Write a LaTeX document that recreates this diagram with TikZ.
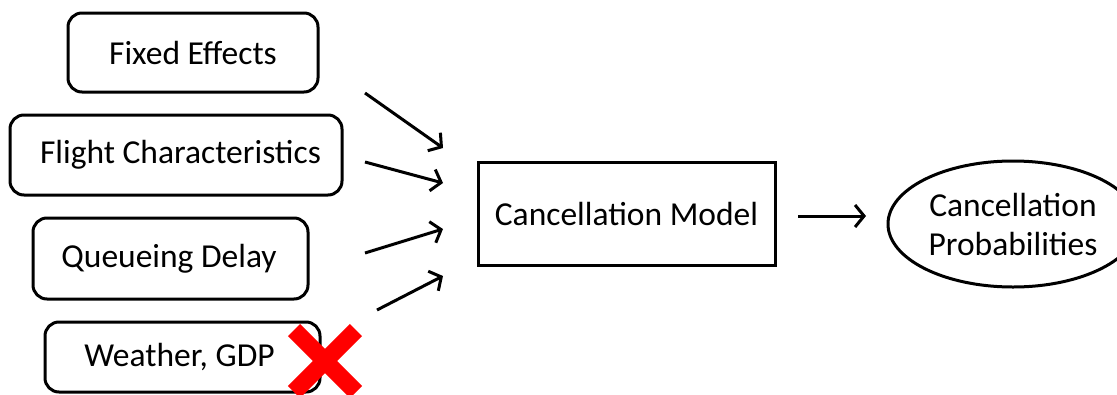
\documentclass[tikz,border=0pt]{standalone}
\usepackage{fontspec}
\setmainfont{Carlito}
\usetikzlibrary{arrows.meta,shapes.geometric,calc}
\begin{document}
\begin{tikzpicture}[x=1pt,y=-1pt,
  inbox/.style={draw=black,line width=3pt,rounded corners=14pt,inner sep=0pt,font=\fontsize{33.5}{38}\selectfont},
  modelbox/.style={draw=black,line width=3pt,inner sep=0pt,font=\fontsize{33.5}{38}\selectfont},
  outell/.style={draw=black,line width=3pt,ellipse,inner sep=0pt,minimum width=250pt,minimum height=126pt,font=\fontsize{33.5}{38}\selectfont,align=center},
  conn/.style={line width=3pt,-{Straight Barb[length=9pt,width=22pt,line width=3pt]}},
  redx/.style={draw=red,line width=17pt,line cap=butt}]
\useasboundingbox (0,0) rectangle (1117,394);
\fill[white] (0,0) rectangle (1117,394);
\clip (0,0) rectangle (1117,394);

\node[inbox,minimum width=250pt,minimum height=79pt] (fe) at (193,52.5) {Fixed Effects};
\node[inbox,minimum width=332pt,minimum height=80pt] (fc) at (176,155) {\hspace*{9pt}Flight Characteristics};
\node[inbox,minimum width=275pt,minimum height=81pt] (qd) at (170.5,258.5) {Queueing Delay\hspace*{3pt}};
\node[inbox,minimum width=275pt,minimum height=70pt] (wg) at (182.5,357) {Weather, GDP\hspace*{6pt}};

\node[modelbox,minimum width=297pt,minimum height=103pt] (cm) at (626.5,213.5) {Cancellation Model};
\node[outell] (cp) at (1013,224) {Cancellation\\[1pt]Probabilities};

\coordinate (a1s) at (365,93);  \coordinate (a1e) at (443,148);
\coordinate (a2s) at (365,162); \coordinate (a2e) at (443,183);
\coordinate (a3s) at (365,253); \coordinate (a3e) at (443,229);
\coordinate (a4s) at (377,310); \coordinate (a4e) at (443,276);
\draw[conn] (a1s) -- (a1e);
\draw[conn] (a2s) -- (a2e);
\draw[conn] (a3s) -- (a3e);
\draw[conn] (a4s) -- (a4e);

\coordinate (o1) at (798,216); \coordinate (o2) at (866,216);
\draw[conn] (o1) -- (o2);

\coordinate (xc) at (325,361);
\draw[redx] ($(xc)+(-31,-31)$) -- ($(xc)+(31,31)$);
\draw[redx] ($(xc)+(31,-31)$) -- ($(xc)+(-31,31)$);
\end{tikzpicture}
\end{document}
